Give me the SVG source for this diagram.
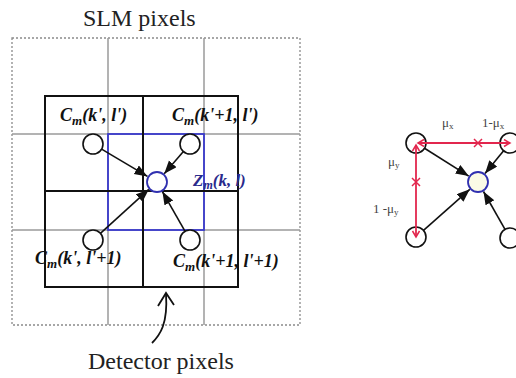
<svg xmlns="http://www.w3.org/2000/svg" width="516" height="378" viewBox="0 0 516 378" font-family="Liberation Serif">
<defs>
<marker id="ah" markerUnits="userSpaceOnUse" markerWidth="14" markerHeight="11" refX="13" refY="5" orient="auto"><path d="M0,0 L13,5 L0,10 z" fill="#111"/></marker>
<marker id="rh" markerUnits="userSpaceOnUse" markerWidth="9" markerHeight="9" refX="7" refY="4" orient="auto-start-reverse"><path d="M1,0.5 L7,4 L1,7.5" fill="none" stroke="#e2264d" stroke-width="1.5"/></marker>
</defs>
<style>
.node{fill:#fff;stroke:#111;stroke-width:1.6}
.cnode{stroke:#3030b0;stroke-width:1.8}
</style>
<rect width="516" height="378" fill="#fff"/>
<text x="83" y="26" font-family="Liberation Serif" font-size="24" fill="#222">SLM pixels</text>
<text x="88" y="369" font-family="Liberation Serif" font-size="24" fill="#222">Detector pixels</text>
<g id="slm-grid" stroke="#9a9a9a" stroke-width="1.5" fill="none">
<rect x="12" y="38" width="288" height="287" stroke="#8a8a8a" stroke-width="1.3" stroke-dasharray="2 2"/>
<line x1="108" y1="38" x2="108" y2="325"/>
<line x1="204" y1="38" x2="204" y2="325"/>
<line x1="12" y1="134" x2="300" y2="134"/>
<line x1="12" y1="230" x2="300" y2="230"/>
</g>
<g id="blue-pixel"><rect x="108" y="134" width="96" height="96" stroke="#3a3acc" stroke-width="1.8" fill="none"/></g>
<g id="detector-grid" stroke="#111" stroke-width="2" fill="none">
<rect x="45" y="96" width="193" height="191"/>
<line x1="143" y1="96" x2="143" y2="287"/>
<line x1="45" y1="191" x2="238" y2="191"/>
</g>
<g id="connectors" stroke="#111" stroke-width="1.6" fill="none">
<line x1="101.6" y1="149.1" x2="147.5" y2="176.4" marker-end="url(#ah)"/>
<line x1="183.4" y1="151.6" x2="164.2" y2="173.7" marker-end="url(#ah)"/>
<line x1="100.4" y1="233.3" x2="148.8" y2="189.4" marker-end="url(#ah)"/>
<line x1="185.1" y1="231.3" x2="162.4" y2="191.6" marker-end="url(#ah)"/>
<path d="M152,343 C160,335 168,324 166,294" stroke-width="1.8"/>
<polyline points="158,306 166,293 174,305" stroke-width="1.8"/>
<line x1="424.5" y1="148.3" x2="468.7" y2="176.1" marker-end="url(#ah)"/>
<line x1="503.6" y1="150.7" x2="485.0" y2="173.5" marker-end="url(#ah)"/>
<line x1="423.5" y1="230.4" x2="469.8" y2="189.3" marker-end="url(#ah)"/>
<line x1="505.0" y1="229.3" x2="483.5" y2="191.5" marker-end="url(#ah)"/>
<path d="M474,139 L482,147 M482,139 L474,147 M412,178 L420,186 M420,178 L412,186" stroke="#e2264d" stroke-width="1.5"/>
</g>
<g id="node-ul"><circle class="node" cx="93" cy="144" r="10"/><text x="60" y="121" font-family="Liberation Serif" font-size="18" font-weight="bold" font-style="italic" fill="#111">C<tspan font-size="13" dy="4">m</tspan><tspan dy="-4">(k', l')</tspan></text></g>
<g id="node-ur"><circle class="node" cx="190" cy="144" r="10"/><text x="172" y="121" font-family="Liberation Serif" font-size="18" font-weight="bold" font-style="italic" fill="#111">C<tspan font-size="13" dy="4">m</tspan><tspan dy="-4">(k'+1, l')</tspan></text></g>
<g id="node-ll"><circle class="node" cx="93" cy="240" r="10"/><text x="35" y="264" font-family="Liberation Serif" font-size="18" font-weight="bold" font-style="italic" fill="#111">C<tspan font-size="13" dy="4">m</tspan><tspan dy="-4">(k', l'+1)</tspan></text></g>
<g id="node-lr"><circle class="node" cx="190" cy="240" r="10"/><text x="173" y="267" font-family="Liberation Serif" font-size="18" font-weight="bold" font-style="italic" fill="#111">C<tspan font-size="13" dy="4">m</tspan><tspan dy="-4">(k'+1, l'+1)</tspan></text></g>
<g id="node-z"><circle class="cnode" cx="157" cy="182" r="10" fill="#fff"/><text x="193" y="186" font-family="Liberation Serif" font-size="17" font-weight="bold" font-style="italic" fill="#2a2a8c">Z<tspan font-size="12" dy="3">m</tspan><tspan dy="-3">(k, l)</tspan></text></g>
<g id="r-node-tl"><circle class="node" cx="416" cy="143" r="10"/></g>
<g id="r-node-tr"><circle class="node" cx="510" cy="143" r="10"/></g>
<g id="r-node-bl"><circle class="node" cx="416" cy="237" r="10"/></g>
<g id="r-node-br"><circle class="node" cx="510" cy="238" r="10"/></g>
<g id="r-node-c"><circle class="cnode" cx="478" cy="182" r="10" fill="#fbfbe6"/></g>
<g id="connectors-red" stroke="#e2264d" stroke-width="1.8" fill="none">
<line x1="418" y1="143" x2="510" y2="143" marker-start="url(#rh)" marker-end="url(#rh)"/>
<line x1="416" y1="145" x2="416" y2="237" marker-start="url(#rh)" marker-end="url(#rh)"/>
</g>
<g id="mu-labels" font-family="Liberation Serif" font-size="13" fill="#444">
<text x="442" y="127">&#956;<tspan font-size="9" dy="2">x</tspan></text>
<text x="482" y="127">1-&#956;<tspan font-size="9" dy="2">x</tspan></text>
<text x="388" y="166">&#956;<tspan font-size="9" dy="2">y</tspan></text>
<text x="373" y="213">1 -&#956;<tspan font-size="9" dy="2">y</tspan></text>
</g>
</svg>
